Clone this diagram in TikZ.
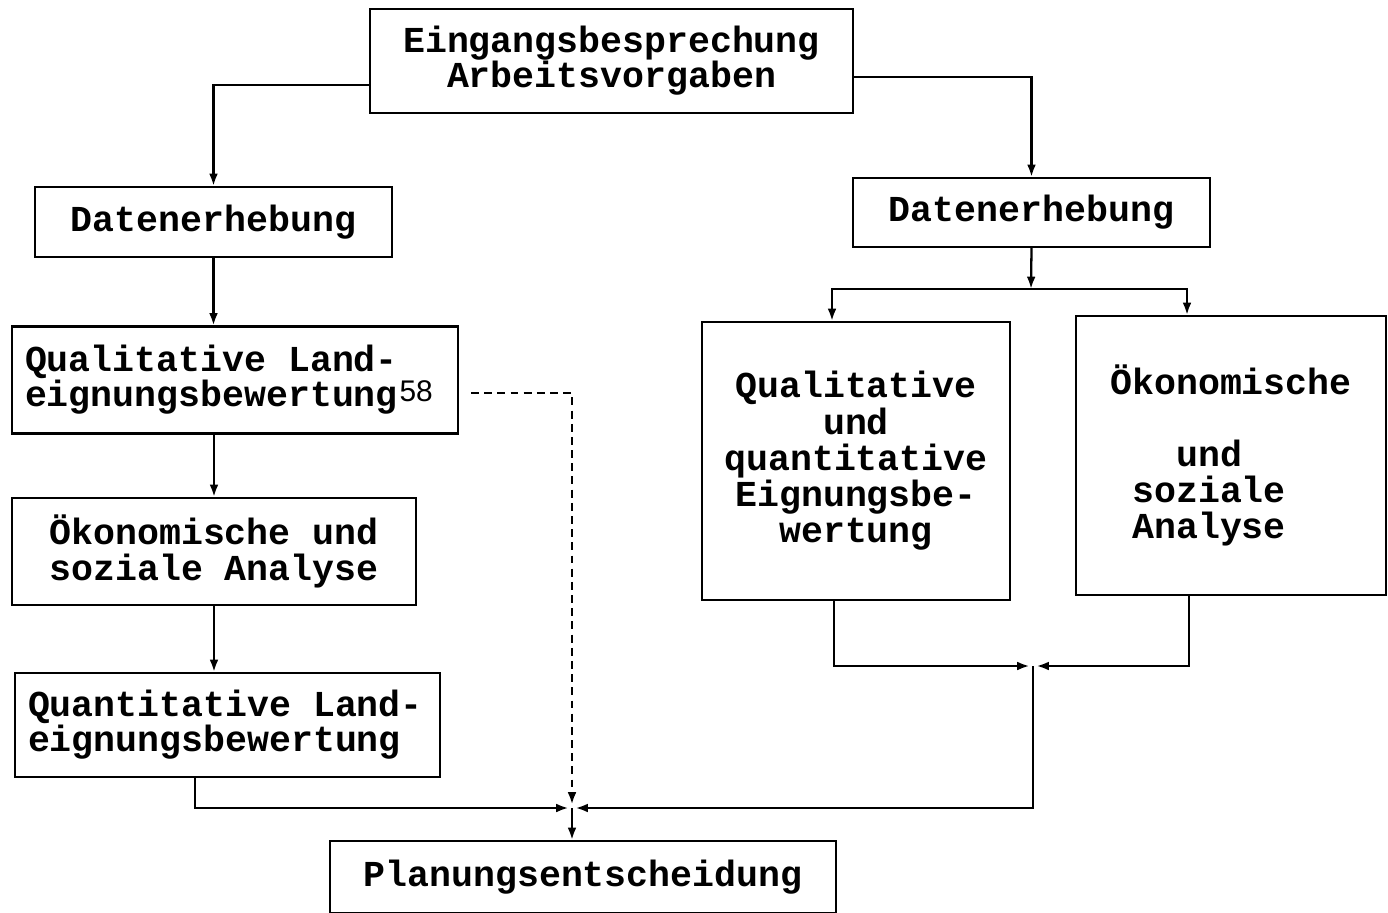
\documentclass[tikz,border=0pt]{standalone}
\usepackage{fontspec}
\setmonofont{Liberation Mono}
\setsansfont{Liberation Sans}
\usepackage{tikz}
\usetikzlibrary{arrows.meta}
\newcommand{\boxfont}[1]{\ttfamily\bfseries\fontsize{20.8}{#1}\selectfont}

\begin{document}
\begin{tikzpicture}[x=0.02cm, y=-0.02cm,
    box/.style={draw, line width=1.2pt, inner sep=0pt, align=center, font=\boxfont{20}},
    arr/.style={line width=1.3pt, -{Latex[length=7pt,width=5pt]}},
    dashline/.style={dash pattern=on 4.5pt off 3pt}]
  \useasboundingbox (0,0) rectangle (1388,912);
  % top
  \node[box, minimum width=9.66cm, minimum height=2.08cm] (start) at (611.5,61)
    {Eingangsbesprechung\\Arbeitsvorgaben};
  % left column
  \node[box, minimum width=7.14cm, minimum height=1.4cm] (datenL) at (213.5,222) {Datenerhebung};
  \node[box, minimum width=8.92cm, minimum height=2.14cm, align=flush left, text width=8.4cm] (qualL) at (235,380)
    {Qualitative Land-\\eignungsbewertung\hspace{1pt}\raisebox{3pt}{\sffamily\mdseries\fontsize{17}{17}\selectfont 58}};
  \node[box, minimum width=8.08cm, minimum height=2.14cm] (oekoL) at (214,551.5)
    {Ökonomische und\\soziale Analyse};
  \node[box, minimum width=8.5cm, minimum height=2.08cm, align=flush left, text width=7.98cm] (quantL) at (227.5,725)
    {Quantitative Land-\\eignungsbewertung};
  % right column
  \node[box, minimum width=7.14cm, minimum height=1.38cm] (datenR) at (1031.5,212.5) {Datenerhebung};
  \node[box, minimum width=6.16cm, minimum height=5.56cm, font=\boxfont{20.6}] (qualR) at (856,461)
    {Qualitative\\und\\quantitative\\Eignungsbe-\\wertung};
  \node[box, minimum width=6.2cm, minimum height=5.58cm, font=\boxfont{20.6}] (oekoR) at (1231,455.5)
    {Ökonomische\\[20.6pt]und\hphantom{xx}\\soziale\hphantom{xx}\\Analyse\hphantom{xx}};
  % bottom
  \node[box, minimum width=10.12cm, minimum height=1.44cm] (plan) at (583,877) {Planungsentscheidung};

  \coordinate (split) at (1031,289);
  \coordinate (mergeR) at (1033,666);
  \coordinate (merge) at (572,808);

  \draw[arr] ([yshift=-0.48cm]start.west) -| (datenL.north);
  \draw[arr] ([yshift=-0.32cm]start.east) -| (datenR.north);
  \draw[arr] (datenL.south) -- (datenL.south |- qualL.north);
  \draw[arr] (qualL.south -| oekoL.north) -- (oekoL.north);
  \draw[arr] (oekoL.south) -- (oekoL.south |- quantL.north);

  \draw[arr] (datenR.south) -- (split);
  \draw[arr] (split) -| ([xshift=-0.48cm]qualR.north);
  \draw[arr] (split) -| ([xshift=-0.88cm]oekoR.north);
  \draw[arr, shorten >=2pt] ([xshift=-0.44cm]qualR.south) |- (mergeR);
  \draw[arr, shorten >=2pt] ([xshift=-0.84cm]oekoR.south) |- (mergeR);

  \draw[arr, shorten >=2pt] (mergeR) |- (merge);
  \draw[arr, shorten >=2pt] ([xshift=-0.65cm]quantL.south) |- (merge);
  \draw[arr, dashline, shorten >=2pt] ([xshift=0.24cm,yshift=-0.26cm]qualL.east) -| (merge);
  \draw[arr] (merge) -- (merge |- plan.north);
\end{tikzpicture}
\end{document}
